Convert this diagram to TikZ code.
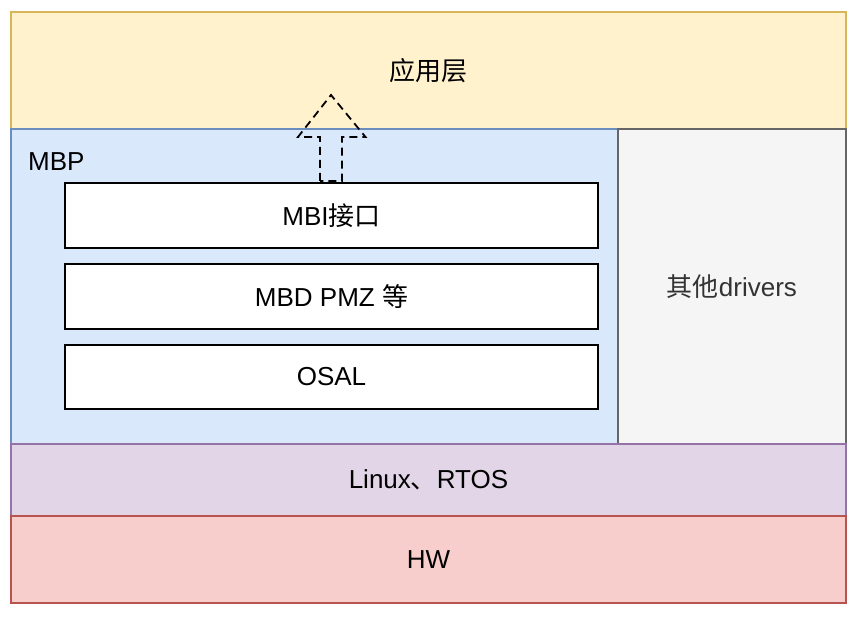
\documentclass[tikz,border=0pt]{standalone}
\usepackage{fontspec}
\setmainfont{Liberation Sans}
\newfontfamily\cjk{Noto Sans CJK SC}
\usepackage{xcolor}
\usepackage{tikz}
\usetikzlibrary{arrows.meta,positioning,calc}

\definecolor{appfill}{HTML}{FFF2CC}\definecolor{appline}{HTML}{D6B656}
\definecolor{mbpfill}{HTML}{DAE8FC}\definecolor{mbpline}{HTML}{6C8EBF}
\definecolor{drvfill}{HTML}{F5F5F5}\definecolor{drvline}{HTML}{666666}
\definecolor{drvtext}{HTML}{333333}
\definecolor{osfill}{HTML}{E1D5E7}\definecolor{osline}{HTML}{9673A6}
\definecolor{hwfill}{HTML}{F8CECC}\definecolor{hwline}{HTML}{B85450}

\begin{document}
\begin{tikzpicture}[
  x=1pt, y=-1pt,
  every node/.style={font=\fontsize{26}{30}\selectfont},
  layer/.style={draw, line width=1.5pt, inner sep=0pt, outer sep=0pt, align=center},
  inbox/.style={draw, line width=2pt, fill=white, inner sep=0pt, outer sep=0pt,
    minimum width=533pt, minimum height=65pt},
  blockarr/.style={draw, dashed, dash pattern=on 8pt off 5pt, line width=1.8pt}
]
  \useasboundingbox (0,0) rectangle (863,623);
  % layers
  \node[layer, fill=appfill, draw=appline, minimum width=835pt, minimum height=117pt]
    (app) at (428.5,70.5) {{\cjk 应用层}};
  \node[layer, fill=mbpfill, draw=mbpline, minimum width=607pt, minimum height=315pt]
    (mbp) at (314.5,286.5) {};
  \node[layer, fill=drvfill, draw=drvline, text=drvtext, minimum width=228pt, minimum height=315pt]
    (drv) at (732,286.5) {{\cjk 其他}drivers};
  \node[layer, fill=osfill, draw=osline, minimum width=835pt, minimum height=72pt]
    (os) at (428.5,480) {Linux{\cjk 、}RTOS};
  \node[layer, fill=hwfill, draw=hwline, minimum width=835pt, minimum height=87pt]
    (hw) at (428.5,559.5) {HW};
  \node[anchor=west, inner sep=0pt] (mbplabel) at (28,162) {MBP};
  % MBP contents
  \node[inbox] (mbi) at (331.5,215.5) {MBI{\cjk 接口}};
  \node[inbox] (mbd) at (331.5,296.5) {MBD PMZ {\cjk 等}};
  \node[inbox, minimum height=64pt] (osal) at (331.5,377) {OSAL};
  % dashed block arrow up to the app layer
  \coordinate (tail) at ($(mbi.north)+(-0.5,-2)$);
  \draw[blockarr] ($(tail)+(-11,0)$) -- ++(0,-44) -- ++(-22,0) -- ($(tail)+(0,-86)$)
    -- ($(tail)+(34.5,-44)$) -- ++(-23.5,0) -- ($(tail)+(11,0)$) -- cycle;
\end{tikzpicture}
\end{document}
